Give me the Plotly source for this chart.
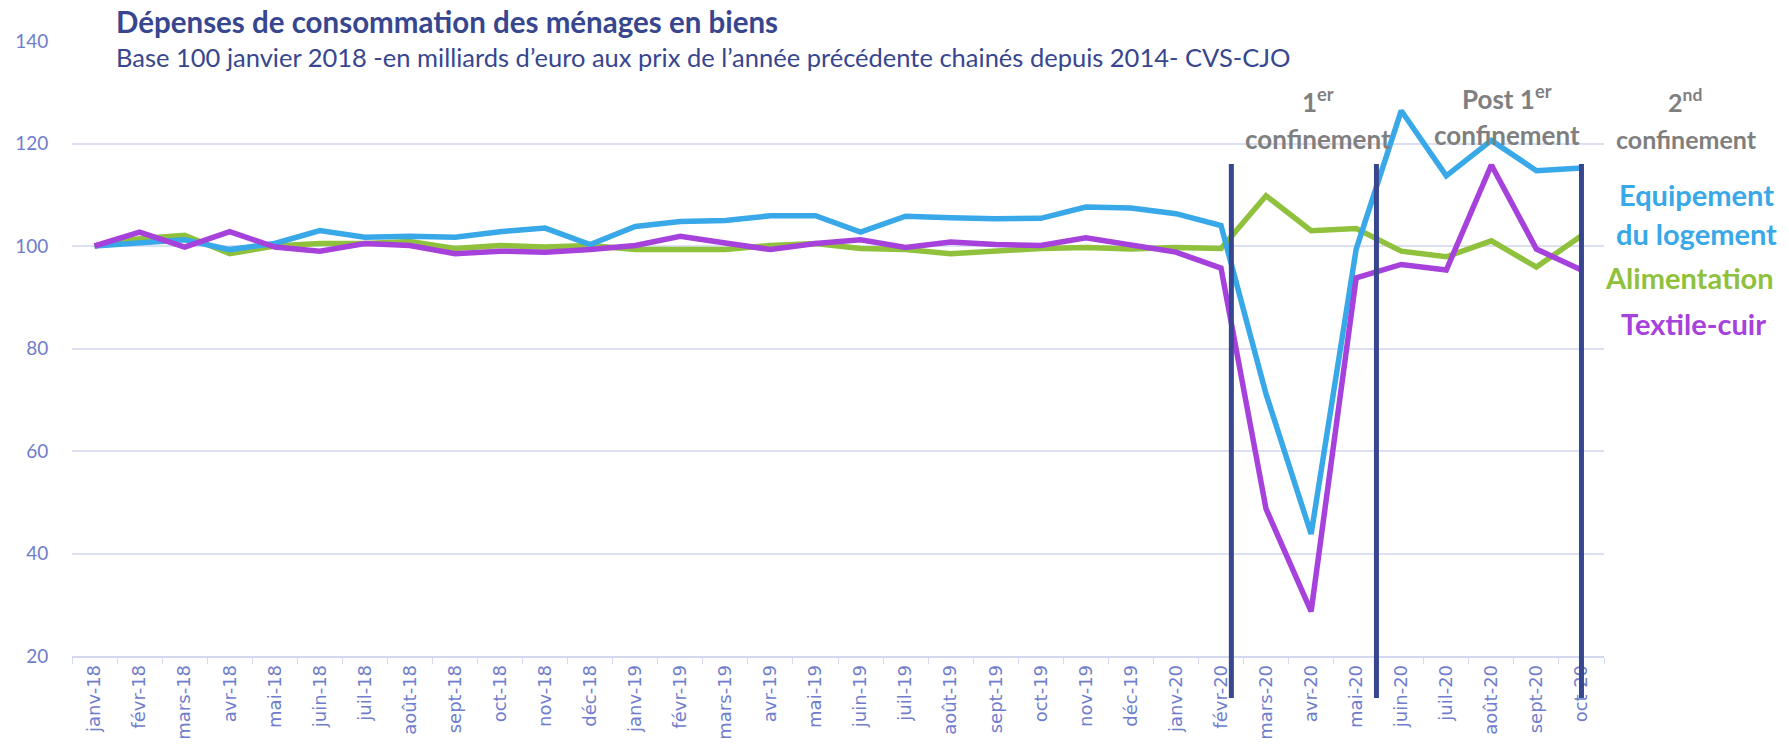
import plotly.graph_objects as go

# months janv-18 .. oct-20
mois = ["janv-18", "févr-18", "mars-18", "avr-18", "mai-18", "juin-18", "juil-18", "août-18",
        "sept-18", "oct-18", "nov-18", "déc-18", "janv-19", "févr-19", "mars-19", "avr-19",
        "mai-19", "juin-19", "juil-19", "août-19", "sept-19", "oct-19", "nov-19", "déc-19",
        "janv-20", "févr-20", "mars-20", "avr-20", "mai-20", "juin-20", "juil-20", "août-20",
        "sept-20", "oct-20"]

equipement = [100, 100.6, 101.2, 99.3, 100.5, 103.0, 101.7, 101.9, 101.7, 102.8, 103.5, 100.3,
              103.8, 104.8, 105.0, 105.9, 105.9, 102.7, 105.8, 105.5, 105.3, 105.4, 107.6, 107.4,
              106.3, 104.0, 71.1, 43.8, 99.4, 126.4, 113.7, 120.6, 114.7, 115.2]

alimentation = [100, 101.4, 102.1, 98.5, 100.0, 100.5, 100.5, 100.9, 99.5, 100.1, 99.8, 100.1,
                99.3, 99.3, 99.3, 100.1, 100.5, 99.5, 99.3, 98.5, 99.0, 99.5, 99.7, 99.4,
                99.7, 99.5, 109.8, 103.0, 103.4, 99.0, 97.9, 101.0, 95.9, 102.0]

textile = [100, 102.7, 99.8, 102.8, 99.8, 99.0, 100.5, 100.1, 98.5, 99.0, 98.8, 99.3,
           100.1, 101.9, 100.6, 99.3, 100.5, 101.2, 99.7, 100.8, 100.3, 100.1, 101.6, 100.1,
           98.8, 95.7, 48.7, 28.7, 93.8, 96.4, 95.3, 115.8, 99.4, 95.3]

# position des barres verticales (en index de catégorie)
coupures = [25.23, 28.45, 33.0]

BLEU = "#38a8e8"
VERT = "#8fc13c"
VIOLET = "#a641dc"
MARINE = "#37468f"
GRIS = "#7f7f7f"
TICK = "#6f7dcc"

W, H = 1789, 751
# plot area in pixels
L, R, T, B = 72, 1604, 41, 656


def px(x):
    return (x - L) / (R - L)


def py(y):
    return (B - y) / (B - T)


fig = go.Figure()
for nom, vals, col in [("Alimentation", alimentation, VERT),
                       ("Equipement du logement", equipement, BLEU),
                       ("Textile-cuir", textile, VIOLET)]:
    fig.add_trace(go.Scatter(x=mois, y=vals, mode="lines", name=nom,
                             line=dict(color=col, width=5.5)))

for c in coupures:
    fig.add_shape(type="line", xref="x", yref="paper", x0=c, x1=c, y0=py(164), y1=py(698),
                  line=dict(color=MARINE, width=5), layer="above")

notes = [
    ("<b>Dépenses de consommation des ménages en biens</b>", 114, 21, 29.5, MARINE, "left"),
    ("Base 100 janvier 2018 -en milliards d’euro aux prix de l’année précédente chainés depuis 2014- CVS-CJO",
     114, 57, 25.5, MARINE, "left"),
    ("<b>1<sup>er</sup></b>", 1318, 100, 26, GRIS, "center"),
    ("<b>confinement</b>", 1318, 139, 26, GRIS, "center"),
    ("<b>Post 1<sup>er</sup></b>", 1507, 97, 26, GRIS, "center"),
    ("<b>confinement</b>", 1507, 135, 26, GRIS, "center"),
    ("<b>2<sup>nd</sup></b>", 1685, 100, 25, GRIS, "center"),
    ("<b>confinement</b>", 1686, 139, 25, GRIS, "center"),
    ("<b>Equipement</b>", 1696, 194, 29, BLEU, "center"),
    ("<b>du logement</b>", 1696, 233, 29, BLEU, "center"),
    ("<b>Alimentation</b>", 1689, 277, 29, VERT, "center"),
    ("<b>Textile-cuir</b>", 1693, 323, 29, VIOLET, "center"),
]
for txt, x, y, size, col, anchor in notes:
    fig.add_annotation(text=txt, xref="paper", yref="paper", x=px(x), y=py(y),
                       xanchor=anchor, yanchor="middle", showarrow=False,
                       font=dict(family="Lato", size=size, color=col))

fig.update_layout(
    width=W, height=H,
    margin=dict(l=L, r=W - R, t=T, b=H - B),
    paper_bgcolor="white", plot_bgcolor="white",
    showlegend=False,
)
fig.update_xaxes(type="category", range=[-0.5, len(mois) - 0.5], tickangle=-90,
                 tickfont=dict(family="DejaVu Sans", size=18, color=TICK),
                 showgrid=False, showline=True, linecolor="#d3d7ef", linewidth=1.5,
                 ticks="outside", tickson="boundaries", ticklen=6, tickcolor="#d3d7ef",
                 automargin=False)
fig.update_yaxes(range=[20, 140], dtick=20, showline=False, zeroline=False,
                 gridcolor="#dde0f3", gridwidth=1.5,
                 tickfont=dict(family="Lato", size=19, color=TICK),
                 ticks="outside", ticklen=0, ticklabelstandoff=19, automargin=False)

# no default 8px body margin, so the figure fills the window exactly
fig.write_html("out.html", config={"displayModeBar": False},
               post_script="document.body.style.margin = '0';")
